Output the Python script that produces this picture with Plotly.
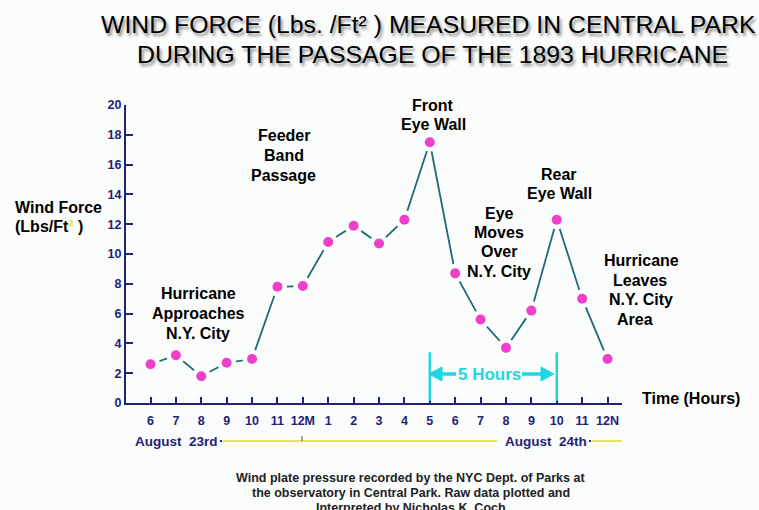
import plotly.graph_objects as go

# ---------------- data ----------------
hour_labels = ["6", "7", "8", "9", "10", "11", "12M", "1", "2", "3", "4",
               "5", "6", "7", "8", "9", "10", "11", "12N"]
hour_index = list(range(len(hour_labels)))
wind_force = [2.6, 3.2, 1.8, 2.7, 2.95, 7.8, 7.85, 10.8, 11.9, 10.7, 12.3,
              17.5, 8.7, 5.6, 3.7, 6.2, 12.3, 7.0, 2.95]
y_ticks = [0, 2, 4, 6, 8, 10, 12, 14, 16, 18, 20]
eye_window = [11, 16]  # "5 Hours" span (hour indices)

W, H = 759, 510
L, R, T, B = 126, 622, 105, 403
BG = "#fbfcfc"
NAVY = "#1f2377"
TEAL = "#1d6b78"
PINK = "#f03fc8"
CYAN = "#1fd6e2"
YELLOW = "#f1e34c"
FONT = "Liberation Sans, Arial, sans-serif"

def PX(px):
    return (px - L) / (R - L)

def PY(py):
    return (B - py) / (B - T)

x_left = -0.965
x_right = 18.57

fig = go.Figure()
fig.add_trace(go.Scatter(x=hour_index, y=wind_force, mode="lines",
                         line=dict(color=TEAL, width=1.8), hoverinfo="skip",
                         showlegend=False, cliponaxis=False))
fig.add_trace(go.Scatter(x=hour_index, y=wind_force, mode="markers",
                         marker=dict(color=BG, size=19, line=dict(width=0)),
                         hoverinfo="skip", showlegend=False, cliponaxis=False))
fig.add_trace(go.Scatter(x=hour_index, y=wind_force, mode="markers",
                         marker=dict(color=PINK, size=10, line=dict(width=0)),
                         showlegend=False, cliponaxis=False))

ann = []

def text(px, py, s, size=16, color="black", bold=True, xanchor="center", shadow=None):
    f = dict(family=FONT, size=size, color=color, weight="bold" if bold else "normal")
    if shadow:
        f["shadow"] = shadow
    ann.append(dict(x=PX(px), y=PY(py), xref="paper", yref="paper", text=s,
                    showarrow=False, xanchor=xanchor, yanchor="middle", font=f))

# title
shadow = "2px 3px 3px rgba(0,0,0,0.45)"
text(428.5, 25, "WIND FORCE (Lbs. /Ft² ) MEASURED IN CENTRAL PARK", size=24.8,
     bold=False, shadow=shadow)
text(432.5, 55, "DURING THE PASSAGE OF THE 1893 HURRICANE", size=24.8,
     bold=False, shadow=shadow)

# event labels (one annotation per line)
blocks = [
    (198, [(293, "Hurricane"), (313, "Approaches"), (333, "N.Y. City")]),
    (283.5, [(135, "Feeder"), (155, "Band"), (175, "Passage")]),
    (433, [(105, "Front"), (124.5, "Eye Wall")]),
    (559, [(174, "Rear"), (193, "Eye Wall")]),
    (499, [(213, "Eye"), (232, "Moves"), (251.5, "Over"), (271, "N.Y. City")]),
]
for cx, lines in blocks:
    for py, s in lines:
        text(cx, py, s)
text(641, 260.5, "Hurricane")
text(640, 280.5, "Leaves")
text(640.5, 299.5, "N.Y. City")
text(634.5, 319, "Area")

# axis titles
text(13, 207, "Wind Force", xanchor="left")
text(13, 226, "(Lbs/Ft<span style='color:#e6dc55'>²</span> )", xanchor="left")
text(691, 398, "Time (Hours)")

# 5 hours marker
text(489, 374, "5 Hours", size=17, color=CYAN)

# dates
text(176, 441, "August&nbsp;&nbsp;23rd", size=13.5, color=NAVY)
text(546, 441, "August&nbsp;&nbsp;24th", size=13.5, color=NAVY)

# caption
cap = ["Wind plate pressure recorded by the NYC Dept. of Parks at",
       "the observatory in Central Park. Raw data plotted and",
       "Interpreted by Nicholas K. Coch"]
for i, s in enumerate(cap):
    text(410.5, 478 + i * 15, s, size=12.5, color="#222222")

shapes = []
for xi in eye_window:
    shapes.append(dict(type="line", xref="x", yref="y", x0=xi, x1=xi, y0=0.15, y1=3.4,
                       line=dict(color=CYAN, width=2.5)))

def seg(x0, y0, x1, y1, color, width):
    shapes.append(dict(type="line", xref="paper", yref="paper", x0=PX(x0), x1=PX(x1),
                       y0=PY(y0), y1=PY(y1), line=dict(color=color, width=width)))

def tri(pts, color):
    d = "M " + " L ".join(f"{PX(a):.5f},{PY(b):.5f}" for a, b in pts) + " Z"
    shapes.append(dict(type="path", xref="paper", yref="paper", path=d,
                       fillcolor=color, line=dict(color=color, width=1)))

# 5-hour arrows
seg(440, 374, 456, 374, CYAN, 3.5)
tri([(429, 374), (442, 367), (442, 381)], CYAN)
seg(522, 374, 543, 374, CYAN, 3.5)
tri([(554, 374), (541, 367), (541, 381)], CYAN)

# date leader lines
seg(223, 441, 497, 441, YELLOW, 2)
seg(592, 441, 622, 441, YELLOW, 2)
seg(220, 441, 222, 441, NAVY, 2)
seg(589, 441, 591, 441, NAVY, 2)
seg(302, 436, 302, 441, "#555533", 1)

fig.update_layout(
    width=W, height=H,
    margin=dict(l=L, r=W - R, t=T, b=H - B, pad=0),
    paper_bgcolor=BG, plot_bgcolor=BG,
    showlegend=False,
    annotations=ann, shapes=shapes,
    xaxis=dict(range=[x_left, x_right], tickmode="array", tickvals=hour_index,
               ticktext=hour_labels, ticks="inside", ticklen=6, tickwidth=1.5,
               tickcolor=NAVY, showline=True, linecolor=NAVY, linewidth=2,
               showgrid=False, zeroline=False, ticklabelstandoff=5,
               tickfont=dict(family=FONT, size=12.5, color=NAVY, weight="bold")),
    yaxis=dict(range=[0, 20], tickmode="array", tickvals=y_ticks,
               ticks="inside", ticklen=7, tickwidth=1.5, tickcolor=NAVY,
               showline=True, linecolor=NAVY, linewidth=2,
               showgrid=False, zeroline=False,
               tickfont=dict(family=FONT, size=12.5, color=NAVY, weight="bold")),
)

fig.write_html("out.html", config={"displayModeBar": False},
               post_script="document.body.style.margin='0';document.body.style.overflow='hidden';")
